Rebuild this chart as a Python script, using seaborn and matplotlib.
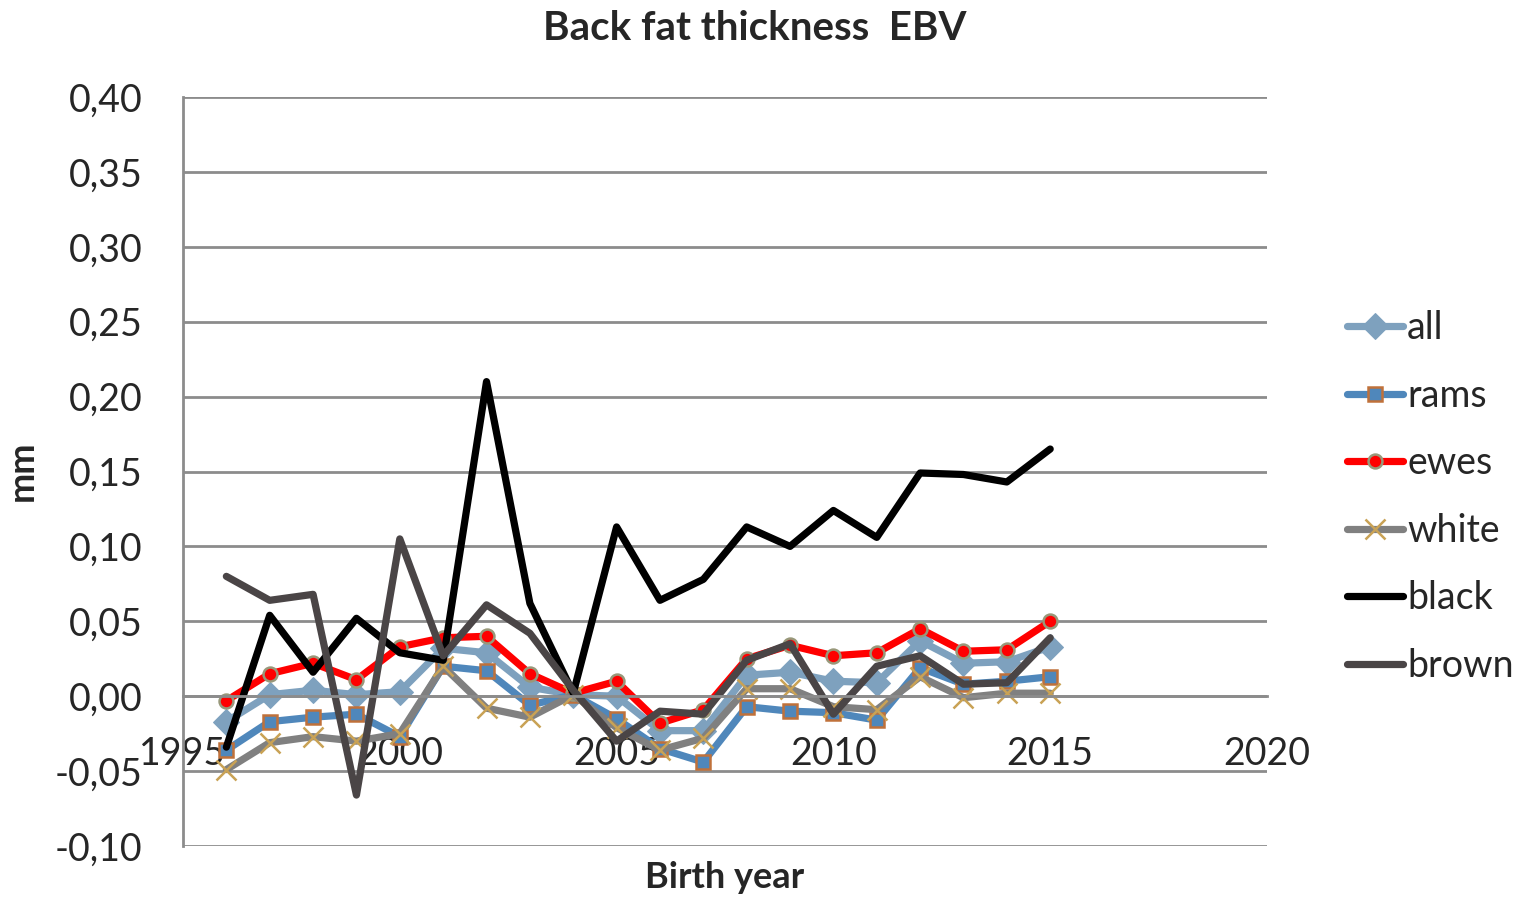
import numpy as np
import pandas as pd
import matplotlib.pyplot as plt
import matplotlib.ticker as mticker
import seaborn as sns

# Data (EBV in mm, birth years 1996-2015)
years = list(range(1996, 2016))
all_ebv = [-0.017, 0.001, 0.004, 0.001, 0.003, 0.032, 0.029, 0.006, 0.001, 0.000,
           -0.023, -0.023, 0.014, 0.016, 0.010, 0.009, 0.037, 0.022, 0.023, 0.033]
rams_ebv = [-0.036, -0.017, -0.014, -0.012, -0.027, 0.020, 0.017, -0.006, 0.001, -0.015,
            -0.035, -0.044, -0.007, -0.010, -0.011, -0.016, 0.019, 0.008, 0.010, 0.013]
ewes_ebv = [-0.003, 0.015, 0.022, 0.011, 0.033, 0.039, 0.040, 0.015, 0.002, 0.010,
            -0.018, -0.009, 0.025, 0.034, 0.027, 0.029, 0.045, 0.030, 0.031, 0.050]
white_ebv = [-0.049, -0.031, -0.027, -0.030, -0.025, 0.020, -0.008, -0.014, 0.001, -0.021,
             -0.036, -0.028, 0.005, 0.005, -0.007, -0.009, 0.013, -0.001, 0.002, 0.002]
black_ebv = [-0.034, 0.054, 0.016, 0.052, 0.029, 0.024, 0.210, 0.062, 0.002, 0.113,
             0.064, 0.078, 0.113, 0.100, 0.124, 0.106, 0.149, 0.148, 0.143, 0.165]
brown_ebv = [0.080, 0.064, 0.068, -0.066, 0.105, 0.027, 0.061, 0.042, 0.004, -0.030,
             -0.010, -0.012, 0.024, 0.035, -0.012, 0.020, 0.027, 0.008, 0.009, 0.039]

series_names = ["all", "rams", "ewes", "white", "black", "brown"]
series_values = [all_ebv, rams_ebv, ewes_ebv, white_ebv, black_ebv, brown_ebv]

# Excel-like styling per series
LW = 5.2
styles = {
    "all":   dict(color="#7EA1BE", marker="D", markersize=13, markerfacecolor="#7EA1BE",
                  markeredgecolor="#7EA1BE", linewidth=LW),
    "rams":  dict(color="#4F87BB", marker="s", markersize=10, markerfacecolor="#4F87BB",
                  markeredgecolor="#C0713A", markeredgewidth=1.8, linewidth=LW),
    "ewes":  dict(color="#FF0000", marker="o", markersize=10, markerfacecolor="#FF0000",
                  markeredgecolor="#98987A", markeredgewidth=1.8, linewidth=LW),
    "white": dict(color="#808080", marker="x", markersize=15, markeredgecolor="#C9A255",
                  markeredgewidth=1.8, linewidth=LW),
    "black": dict(color="#000000", marker=None, linewidth=LW),
    "brown": dict(color="#4A4546", marker=None, linewidth=LW),
}

df = pd.DataFrame({"year": years})
for name, vals in zip(series_names, series_values):
    df[name] = vals

sns.set_style("white")
plt.rcParams["font.family"] = ["Lato", "DejaVu Sans"]

fig = plt.figure(figsize=(15.36, 8.98), dpi=100)
ax = fig.add_axes([183 / 1536, 1 - 846 / 898, (1267 - 183) / 1536, (846 - 97) / 898])

for name in series_names:
    sns.lineplot(data=df, x="year", y=name, ax=ax, label=name,
                 solid_capstyle="round", solid_joinstyle="round", **styles[name])

ax.set_xlim(1995, 2020)
ax.set_ylim(-0.10, 0.40)
ax.set_xticks(np.arange(1995, 2021, 5))
ax.set_yticks(np.arange(-0.10, 0.401, 0.05))
ax.yaxis.set_major_formatter(mticker.FuncFormatter(lambda v, _: f"{v:.2f}".replace(".", ",")))

ax.grid(axis="y", color="#8C8C8C", linewidth=2)
ax.set_axisbelow(True)
for side in ["top", "right"]:
    ax.spines[side].set_visible(False)
ax.spines["left"].set_color("#8C8C8C")
ax.spines["left"].set_linewidth(2)
ax.spines["bottom"].set_position(("data", 0))
ax.spines["bottom"].set_color("#8C8C8C")
ax.spines["bottom"].set_linewidth(2)

ax.tick_params(axis="y", length=0, pad=29, labelsize=27)
ax.tick_params(axis="x", length=0, pad=29, labelsize=27)

ax.set_xlabel("")
ax.set_ylabel("")
fig.text(725 / 1536, 1 - 878 / 898, "Birth year", ha="center", va="center",
         fontsize=26, fontweight="bold")
fig.text(22 / 1536, 1 - 471 / 898, "mm", ha="center", va="center", rotation=90,
         fontsize=26, fontweight="bold")
fig.text(755 / 1536, 1 - 28 / 898, "Back fat thickness  EBV", ha="center", va="center",
         fontsize=29, fontweight="bold")

ax.legend(loc="center left", bbox_to_anchor=((1347 - 183) / 1084, (846 - 497) / 749),
          frameon=False, fontsize=27, handlelength=1.5, handletextpad=0.1,
          labelspacing=0.84, borderaxespad=0, borderpad=0)

fig.savefig("out.png", dpi=100)
